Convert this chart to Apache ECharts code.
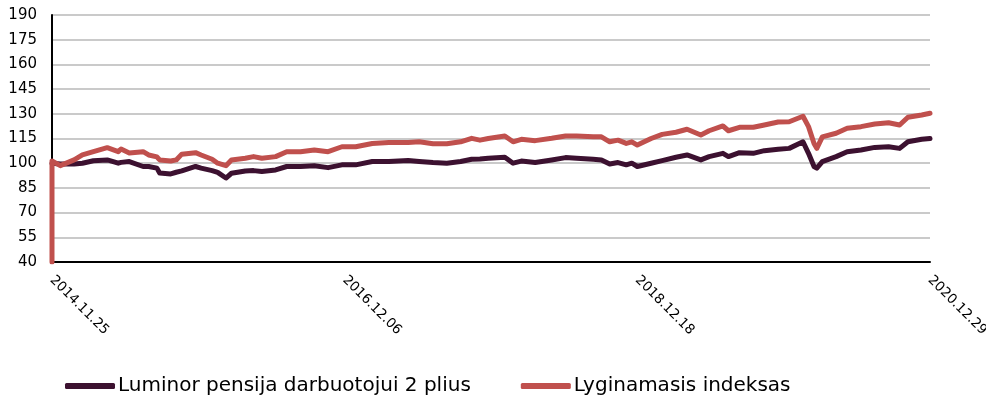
<!DOCTYPE html>
<html>
<head>
<meta charset="utf-8">
<script src="https://cdn.jsdelivr.net/npm/echarts@6/dist/echarts.min.js"></script>
<style>
  html, body { margin: 0; padding: 0; background: #fff; }
  #chart { width: 986px; height: 400px; }
</style>
</head>
<body>
<div id="chart"></div>
<script>
// weeks counted from 2014.11.25 (weekly data)
const weeks = [0, 3, 8, 11, 15, 20, 24, 25, 28, 33, 35, 38, 39, 43, 45, 47, 52, 54, 58, 60, 63, 65, 70, 73, 76, 81, 85, 90, 95, 100,
  105, 110, 116, 122, 129, 133, 138, 143, 148, 152, 155, 158, 164, 167, 170, 175, 181, 186, 190, 196, 199, 202, 205, 208, 210,
  212, 217, 221, 226, 230, 235, 238, 243, 245, 249, 254, 258, 263, 267, 272, 274, 276, 277, 279, 284, 288, 293, 298, 303, 307,
  310, 315, 318];

const fundValues = [100, 99.5, 99.5, 100, 101.5, 102, 100, 100.5, 101, 98, 98, 97, 94, 93.5, 94.5, 95.3, 98, 97, 95.5, 94.4, 91, 93.9, 95.3, 95.5, 94.9, 95.9, 98, 98, 98.5, 97.3,
  99, 99, 101, 101, 101.6, 101, 100.4, 100, 101, 102.4, 102.5, 103, 103.6, 100, 101.3, 100.4, 102, 103.4, 103, 102.4, 102, 99.5, 100.4, 99, 100,
  98, 100, 101.6, 103.6, 105, 102, 104, 106, 104, 106.4, 106, 107.6, 108.5, 109, 113, 106, 98, 97, 101, 104, 107, 108, 109.6, 110, 109,
  113, 114.5, 115];

const indexValues = [101.3, 98.5, 102, 105, 107, 109.4, 107, 108.6, 106.2, 107, 105, 103.8, 102, 101.3, 102, 105.5, 106.4, 105, 102.4, 100, 98.5, 102, 103, 104, 103, 104, 107, 107, 108, 107,
  110, 110, 112, 112.5, 112.5, 113, 111.8, 111.8, 113, 115.1, 114, 115, 116.5, 113, 114.5, 113.7, 115.1, 116.5, 116.5, 116, 116, 113, 114, 112, 113,
  111, 115, 117.5, 118.8, 120.6, 117.1, 119.7, 122.6, 119.7, 121.8, 121.8, 123.2, 125, 125.2, 128.5, 122.2, 112, 109, 116, 118.2, 121.2, 122.2, 123.8, 124.6, 123.2,
  127.9, 129.3, 130.3];

// index series starts from the bottom of the axis
const indexStart = 40;

const xLabels = ['2014.11.25', '2016.12.06', '2018.12.18', '2020.12.29'];
const labelStep = 106;

const seriesNames = ['Luminor pensija darbuotojui 2 plius', 'Lyginamasis indeksas'];

const fundData = weeks.map((w, i) => [w, fundValues[i]]);
const indexData = [[0, indexStart]].concat(weeks.map((w, i) => [w, indexValues[i]]));

const chart = echarts.init(document.getElementById('chart'));
const font = '"DejaVu Sans", sans-serif';

chart.setOption({
  animation: false,
  textStyle: { fontFamily: font },
  grid: { left: 52, right: 56, top: 15, bottom: 138, outerBoundsMode: 'none' },
  legend: {
    top: 371,
    left: 60,
    icon: 'roundRect',
    itemWidth: 50,
    itemHeight: 6,
    itemGap: 50,
    textStyle: { fontFamily: font, fontSize: 20, color: '#000', padding: [0, 0, 0, -2] },
    data: seriesNames
  },
  xAxis: {
    type: 'value',
    min: 0,
    max: 318,
    interval: labelStep,
    axisLine: { lineStyle: { color: '#000', width: 2 } },
    axisTick: { show: false },
    splitLine: { show: false },
    axisLabel: {
      rotate: -45,
      margin: 16,
      fontSize: 13.5,
      color: '#000',
      fontFamily: font,
      formatter: v => xLabels[Math.round(v / labelStep)] || ''
    }
  },
  yAxis: {
    type: 'value',
    min: 40,
    max: 190,
    interval: 15,
    axisLine: { show: true, lineStyle: { color: '#000', width: 2 } },
    axisTick: { show: false },
    splitLine: { lineStyle: { color: '#b8b8b8', width: 1.5 } },
    axisLabel: { fontSize: 15, color: '#000', fontFamily: font, margin: 15 }
  },
  series: [
    {
      name: seriesNames[0],
      type: 'line',
      data: fundData,
      symbol: 'none',
      color: '#3c1130',
      lineStyle: { width: 5, color: '#3c1130', join: 'round', cap: 'round' },
      z: 2
    },
    {
      name: seriesNames[1],
      type: 'line',
      data: indexData,
      symbol: 'none',
      color: '#c0504d',
      lineStyle: { width: 5, color: '#c0504d', join: 'round', cap: 'round' },
      z: 3
    }
  ]
});
</script>
</body>
</html>
